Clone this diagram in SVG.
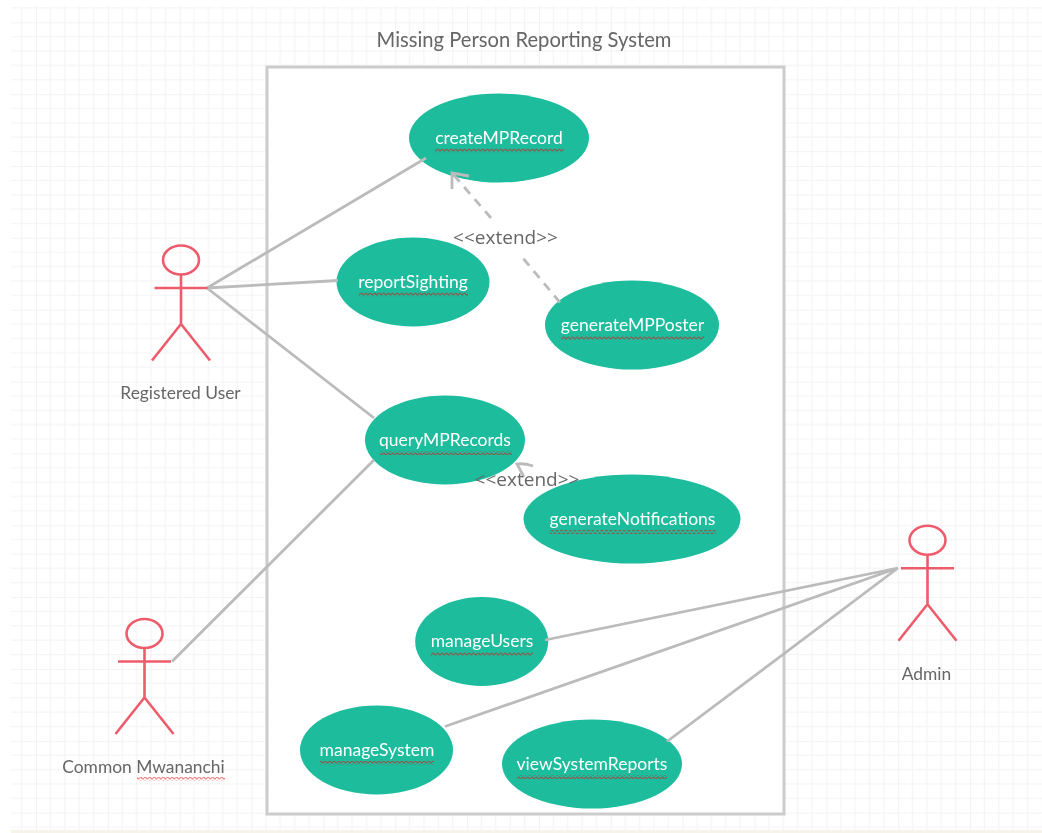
<svg xmlns="http://www.w3.org/2000/svg" width="1042" height="833" viewBox="0 0 1042 833">
<style>
text{font-family:Lato,"Open Sans",sans-serif}
.uc{fill:#1abc9c}
.ul{fill:#fff;font-size:17.5px;text-anchor:middle}
.sq{fill:url(#wave)}
.sqp{fill:url(#wavep)}
.lb{fill:#666;font-size:17.4px;text-anchor:middle}
.ex{fill:#666;font-size:19px;text-anchor:middle;font-family:"Open Sans",sans-serif}
.a{fill:none;stroke:#ee5c6c;stroke-width:2.6}
.c{fill:none;stroke:#bbb;stroke-width:2.8}
</style>
<defs>
<filter id="soft" x="0" y="0" width="100%" height="100%"><feGaussianBlur stdDeviation="0.4"/></filter>
<pattern id="g" width="71.85" height="71.85" patternUnits="userSpaceOnUse" x="36" y="22.3">
<path d="M14.37 0V71.85M28.74 0V71.85M43.11 0V71.85M57.48 0V71.85M0 14.37H71.85M0 28.74H71.85M0 43.11H71.85M0 57.48H71.85" fill="none" stroke="#f5f5f5" stroke-width="1.3"/>
<path d="M0 0V71.85M0 0H71.85" fill="none" stroke="#f0f0f0" stroke-width="1.7"/>
</pattern>
<pattern id="wave" width="4.500" height="4" patternUnits="userSpaceOnUse"><path d="M0 2Q1.125 0 2.250 2T4.500 2" fill="none" stroke="#a04a42" stroke-width="1.100"/></pattern>
<pattern id="wavep" width="4.500" height="4" patternUnits="userSpaceOnUse"><path d="M0 2Q1.125 0 2.250 2T4.500 2" fill="none" stroke="#f07070" stroke-width="1.100"/></pattern>
<g id="actor" class="a"><ellipse cx="0" cy="-28" rx="18" ry="14.500"/><path d="M0-13.500V36M-26.500 0H26.500M0 36L-29 72.500M0 36L29 72.500"/></g>
</defs>
<g filter="url(#soft)">
<rect width="1042" height="833" fill="#fff"/>
<rect x="11" y="6" width="1031" height="824" fill="url(#g)"/>
<rect x="11" y="830" width="1031" height="3" fill="#f6f4ea"/>
<text x="524" y="46.500" font-size="20.200" fill="#666" text-anchor="middle">Missing Person Reporting System</text>
<rect x="267" y="67" width="517" height="747" fill="#fff" stroke="#ccc" stroke-width="3"/>
<g id="uc1"><ellipse class="uc" cx="499" cy="138" rx="90" ry="44.500"/><text class="ul" x="499" y="144">createMPRecord</text><rect class="sq" x="435" y="148.500" width="129" height="4"/></g>
<g id="uc2"><ellipse class="uc" cx="413" cy="282" rx="76.500" ry="44.500"/><text class="ul" x="413" y="288">reportSighting</text><rect class="sq" x="359" y="292.500" width="109" height="4"/></g>
<g id="uc3"><ellipse class="uc" cx="632" cy="325" rx="87" ry="44.500"/><text class="ul" x="632.500" y="331">generateMPPoster</text><rect class="sq" x="561" y="336" width="143" height="4"/></g>
<g id="uc4"><ellipse class="uc" cx="445" cy="440" rx="80" ry="44.500"/><text class="ul" x="445" y="446">queryMPRecords</text><rect class="sq" x="380" y="451" width="132" height="4"/></g>
<g id="uc5"><ellipse class="uc" cx="632" cy="519" rx="108.500" ry="44.500"/><text class="ul" x="632.500" y="525">generateNotifications</text><rect class="sq" x="550" y="530" width="166" height="4"/></g>
<g id="uc6"><ellipse class="uc" cx="481.700" cy="641.500" rx="66.500" ry="44.500"/><text class="ul" x="482" y="647">manageUsers</text><rect class="sq" x="431" y="652" width="102" height="4"/></g>
<g id="uc7"><ellipse class="uc" cx="376.500" cy="750" rx="76.500" ry="44.500"/><text class="ul" x="377" y="756">manageSystem</text><rect class="sq" x="320" y="761" width="114" height="4"/></g>
<g id="uc8"><ellipse class="uc" cx="592" cy="764" rx="90" ry="44.500"/><text class="ul" x="592" y="770">viewSystemReports</text><rect class="sq" x="517" y="775" width="150" height="4"/></g>
<g id="connectors">
<path class="c" d="M207 288L426 158M207 288L338 280.500M207 288L374 418M172 661.500L374 460M545 640L898 568M445 726.500L898 568M667 741.500L898 568"/>
<path class="c" d="M560 302.500L522 257M491 218L452 173" stroke-dasharray="9 7"/>
<path class="c" d="M469 176L452 173L452 189M533 466Q524 463 517 464L524 477"/>
</g>
<text class="ex" x="505.500" y="244">&lt;&lt;extend&gt;&gt;</text>
<text class="ex" x="527" y="486">&lt;&lt;extend&gt;&gt;</text>
<g id="actor-registered"><use href="#actor" x="181" y="288"/><text class="lb" x="180.500" y="398.500">Registered User</text></g>
<g id="actor-common"><use href="#actor" x="144.500" y="661.500"/><text class="lb" x="143.500" y="772.500">Common Mwananchi</text><rect class="sqp" x="137" y="777" width="88" height="4"/></g>
<g id="actor-admin"><use href="#actor" x="927.500" y="568.300"/><text class="lb" x="926.500" y="679.500">Admin</text></g>
</g>
</svg>
